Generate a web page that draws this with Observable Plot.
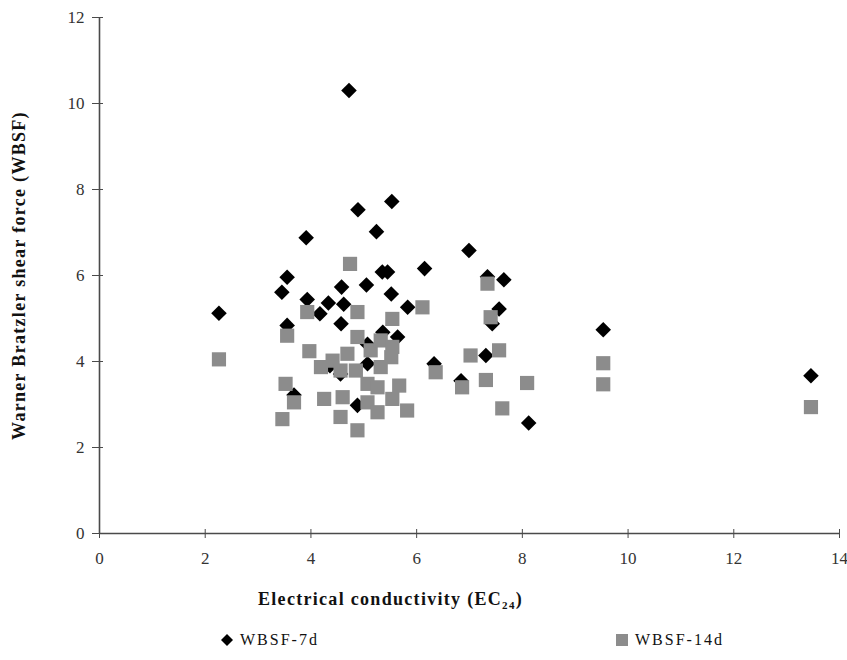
<!DOCTYPE html>
<html>
<head>
<meta charset="utf-8">
<script src="https://cdn.jsdelivr.net/npm/d3@7"></script>
<script src="https://cdn.jsdelivr.net/npm/@observablehq/plot@0.6"></script>
<style>
  body { margin: 0; background: #fff; }
  #chart { width: 847px; position: relative; }
  .legend { position: relative; height: 40px; width: 847px; font-family: "Liberation Serif", "DejaVu Serif", serif; font-size: 16px; color: #111; letter-spacing: 2px; }
  .legend .item { position: absolute; top: 11px; display: flex; align-items: center; }
  .legend svg { margin-right: 5px; }
</style>
</head>
<body>
<div id="chart"></div>
<script>
// WBSF-7d: [EC24, WBSF]
const ec7d = [2.26,3.45,3.55,3.55,3.68,3.91,3.93,4.17,4.33,4.36,4.56,4.58,4.62,4.57,4.72,4.88,4.89,5.05,5.07,5.07,5.24,5.36,5.35,5.45,5.52,5.53,5.64,5.83,6.15,6.33,6.84,6.99,7.31,7.34,7.43,7.56,7.65,8.12,9.53,13.46];
const wbsf7d = [5.12,5.61,5.96,4.84,3.22,6.88,5.44,5.11,5.36,3.90,3.71,5.73,5.33,4.88,10.30,2.98,7.53,5.78,3.95,4.40,7.02,4.68,6.08,6.08,5.57,7.72,4.57,5.26,6.16,3.95,3.55,6.58,4.14,5.97,4.88,5.22,5.90,2.57,4.74,3.67];
// WBSF-14d
const ec14d = [2.26,3.46,3.52,3.55,3.68,3.93,3.97,4.19,4.25,4.41,4.56,4.56,4.60,4.69,4.74,4.85,4.88,4.88,4.88,5.07,5.07,5.13,5.26,5.26,5.32,5.32,5.54,5.52,5.54,5.54,5.67,5.82,6.11,6.36,6.86,7.02,7.31,7.34,7.40,7.56,7.62,8.09,9.53,9.53,13.46];
const wbsf14d = [4.05,2.66,3.48,4.60,3.05,5.15,4.24,3.87,3.13,4.02,3.79,2.71,3.17,4.18,6.27,3.79,5.15,4.57,2.40,3.48,3.05,4.26,3.40,2.82,3.87,4.49,4.34,4.10,4.99,3.13,3.44,2.86,5.26,3.75,3.40,4.14,3.57,5.81,5.03,4.26,2.91,3.50,3.96,3.47,2.94];
const xTicks = [0,2,4,6,8,10,12,14];
const yTicks = [0,2,4,6,8,10,12];
const seriesNames = ["WBSF-7d","WBSF-14d"];
const xTitle = "Electrical conductivity (EC24)";
const yTitle = "Warner Bratzler shear force (WBSF)";

const d7 = ec7d.map((x,i) => ({x, y: wbsf7d[i]}));
const d14 = ec14d.map((x,i) => ({x, y: wbsf14d[i]}));

const axisColor = "#4a4a4a";
const font = "'Liberation Serif', 'DejaVu Serif', serif";

const chart = Plot.plot({
  width: 847,
  height: 620,
  marginLeft: 99,
  marginRight: 8,
  marginTop: 17,
  marginBottom: 87,
  style: {fontFamily: font, fontSize: "17px", color: "#333", background: "#fff"},
  x: {domain: [0,14]},
  y: {domain: [0,12]},
  marks: [
    Plot.ruleX([0], {stroke: axisColor, strokeWidth: 1.6}),
    Plot.ruleY([0], {stroke: axisColor, strokeWidth: 1.6}),
    Plot.axisY({ticks: yTicks, anchor: "left", tickSize: 7, tickPadding: 8, stroke: axisColor, label: null, fill: "#333", fontSize: 17}),
    Plot.axisY({ticks: yTicks, anchor: "left", tickSize: 4, text: null, dx: 4, stroke: axisColor, label: null}),
    Plot.axisX({ticks: xTicks, anchor: "bottom", tickSize: 5, tickPadding: 13, stroke: axisColor, label: null, fill: "#333", fontSize: 17}),
    Plot.axisX({ticks: xTicks, anchor: "bottom", tickSize: 4, text: null, dy: -4, stroke: axisColor, label: null}),
    Plot.text([yTitle], {frameAnchor: "left", textAnchor: "middle", dx: -80, rotate: -90, fontWeight: "bold", fontSize: 18, fill: "#111", text: d => d}),
    Plot.text([xTitle], {frameAnchor: "bottom", textAnchor: "middle", dx: -79, dy: 71, fontWeight: "bold", fontSize: 18, fill: "#111", text: d => d}),
    Plot.dot(d7, {x: "x", y: "y", symbol: "diamond2", r: 7, fill: "#000", stroke: "none"}),
    Plot.dot(d14, {x: "x", y: "y", symbol: "square", r: 8, fill: "#8c8c8c", stroke: "none"})
  ]
});
document.getElementById("chart").appendChild(chart);

// letter spacing for titles and subscript for EC24
d3.select(chart).selectAll("text").filter(function(){ return this.textContent === xTitle || this.textContent === yTitle; })
  .attr("letter-spacing", "1.3px");
d3.select(chart).selectAll("text").filter(function(){ return this.textContent === xTitle; })
  .each(function(){
    const t = d3.select(this);
    t.text(null);
    t.append("tspan").text("Electrical conductivity (EC");
    t.append("tspan").attr("font-size", "11px").attr("dy", "4").text("24");
    t.append("tspan").attr("dy", "-4").text(")");
  });

// legend
const legend = d3.select("body").append("div").attr("class", "legend");
const it1 = legend.append("div").attr("class", "item").style("left", "219px");
it1.append("svg").attr("width", 16).attr("height", 16).append("path").attr("d", "M8,2L14,8L8,14L2,8Z").attr("fill", "#000");
it1.append("span").text(seriesNames[0]);
const it2 = legend.append("div").attr("class", "item").style("left", "614px");
it2.append("svg").attr("width", 16).attr("height", 16).append("rect").attr("x", 2).attr("y", 2).attr("width", 12).attr("height", 12).attr("fill", "#8c8c8c");
it2.append("span").text(seriesNames[1]);
</script>
</body>
</html>
